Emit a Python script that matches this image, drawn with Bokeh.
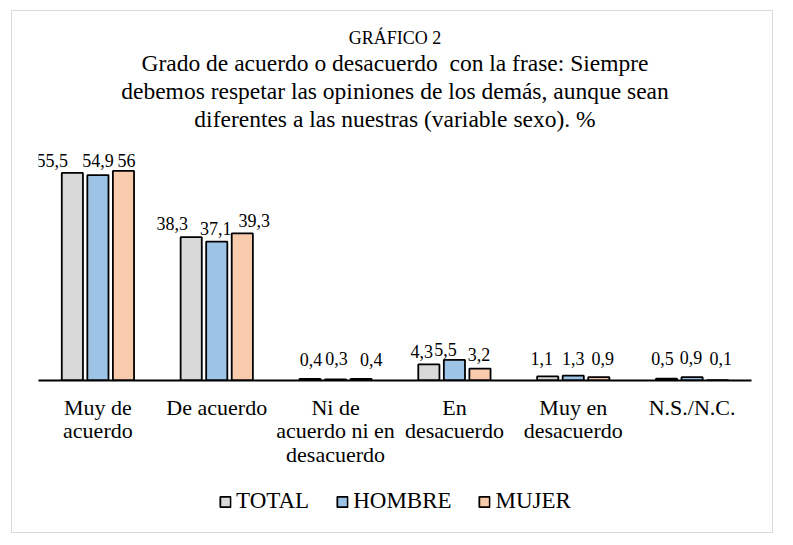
from bokeh.plotting import figure
from bokeh.models import ColumnDataSource, FactorRange, Range1d, Title, Legend, LegendItem
from bokeh.layouts import column
from bokeh.transform import dodge
from bokeh.core.properties import value
from bokeh.embed import file_html
from bokeh.resources import INLINE

categories = ["Muy de\nacuerdo", "De acuerdo", "Ni de\nacuerdo ni en\ndesacuerdo",
              "En\ndesacuerdo", "Muy en\ndesacuerdo", "N.S./N.C."]
total = [55.5, 38.3, 0.4, 4.3, 1.1, 0.5]
hombre = [54.9, 37.1, 0.3, 5.5, 1.3, 0.9]
mujer = [56.0, 39.3, 0.4, 3.2, 0.9, 0.1]
series_names = ["TOTAL", "HOMBRE", "MUJER"]
colors = ["#d9d9d9", "#9dc3e6", "#f8cbad"]

# data-label nudges (screen px) to mimic the hand-placed labels of the original
label_dx = {"total": [-20, -19, 1, -7, -6, -4],
            "hombre": [0, -1, 1, -9, 0, -1],
            "mujer": [3, 12, 10, -1, 4, 3]}
label_dy = {"total": [-12, -14, -20, -13, -18, -20],
            "hombre": [-15, -13, -21, -10, -17, -20],
            "mujer": [-10, -13, -20, -14, -19, -22]}

def fmt(v):
    s = ("%.1f" % v).replace(".", ",")
    return s[:-2] if s.endswith(",0") else s

data = dict(cat=categories, total=total, hombre=hombre, mujer=mujer)
for k, vals in (("total", total), ("hombre", hombre), ("mujer", mujer)):
    data[k + "_l"] = [fmt(v) for v in vals]
    data[k + "_dx"] = label_dx[k]
    data[k + "_dy"] = label_dy[k]
src = ColumnDataSource(data)

FONT = "Liberation Serif"

p = figure(frame_width=713, frame_height=232, output_backend="svg", toolbar_location=None,
           x_range=FactorRange(*categories, range_padding=0, factor_padding=0),
           y_range=Range1d(0, 62),
           min_border_left=26, min_border_right=21, min_border_top=137, min_border_bottom=100)
p.outline_line_color = None
p.xgrid.grid_line_color = None
p.ygrid.grid_line_color = None
p.yaxis.visible = False

ax = p.xaxis[0]
ax.axis_line_color = "black"
ax.axis_line_width = 2
ax.major_tick_line_color = None
ax.minor_tick_line_color = None
ax.major_label_text_font = FONT
ax.major_label_text_font_size = "22px"
ax.major_label_text_color = "black"
ax.major_label_text_line_height = 0.95
ax.major_label_standoff = 8

offsets = [-0.215, 0.0, 0.215]
cols = ["total", "hombre", "mujer"]
for off, col, c in zip(offsets, cols, colors):
    p.vbar(x=dodge("cat", off, range=p.x_range), top=col, width=0.178, source=src,
           fill_color=c, line_color="black", line_width=1.8)
    p.text(x=dodge("cat", off, range=p.x_range), y=col, text=col + "_l", source=src,
           x_offset=col + "_dx", y_offset=col + "_dy",
           text_font=value(FONT), text_font_size="18px", text_color="black",
           text_align="center", text_baseline="alphabetic")

# spacer between the last title line and the plot area
p.add_layout(Title(text="\u00a0", text_font_size="13px", standoff=0), "above")
title_lines = ["diferentes a las nuestras (variable sexo). %",
               "debemos respetar las opiniones de los demás, aunque sean",
               "Grado de acuerdo o desacuerdo\u00a0 con la frase: Siempre"]
for t in title_lines:
    p.add_layout(Title(text=t, align="center", text_font=FONT, text_font_size="23.5px",
                       text_font_style="normal", text_color="black", standoff=0), "above")
p.add_layout(Title(text="GRÁFICO 2", align="center", text_font=FONT, text_font_size="18px",
                   text_font_style="normal", text_color="black", standoff=0), "above")

# legend strip below the chart (same series styles as the bars); its proxy bars
# hold NaN so that only the legend swatches are drawn
lf = figure(width=760, height=52, output_backend="svg", toolbar_location=None,
            x_range=Range1d(0, 1), y_range=Range1d(0, 1),
            min_border=0, min_border_left=0, min_border_right=0,
            min_border_top=0, min_border_bottom=0)
lf.axis.visible = False
lf.grid.visible = False
lf.outline_line_color = None
proxy = ColumnDataSource(dict(x=[float("nan")], top=[float("nan")]))
leg_renderers = [lf.vbar(x="x", top="top", width=0.1, source=proxy, fill_color=c,
                         line_color="black", line_width=1.8) for c in colors]
legend = Legend(items=[LegendItem(label=n, renderers=[r]) for n, r in zip(series_names, leg_renderers)],
                orientation="horizontal", location="bottom_center",
                label_text_font=FONT, label_text_font_size="23px", label_text_color="black",
                glyph_width=13, glyph_height=13, label_standoff=5, spacing=26,
                border_line_color=None, background_fill_alpha=0, margin=18, padding=0)
lf.add_layout(legend, "center")

layout = column(p, lf, spacing=0)
layout.styles = {"border": "1px solid #d9d9d9", "margin-left": "11px", "margin-top": "10px"}

open("out.html", "w").write(file_html(layout, INLINE))
